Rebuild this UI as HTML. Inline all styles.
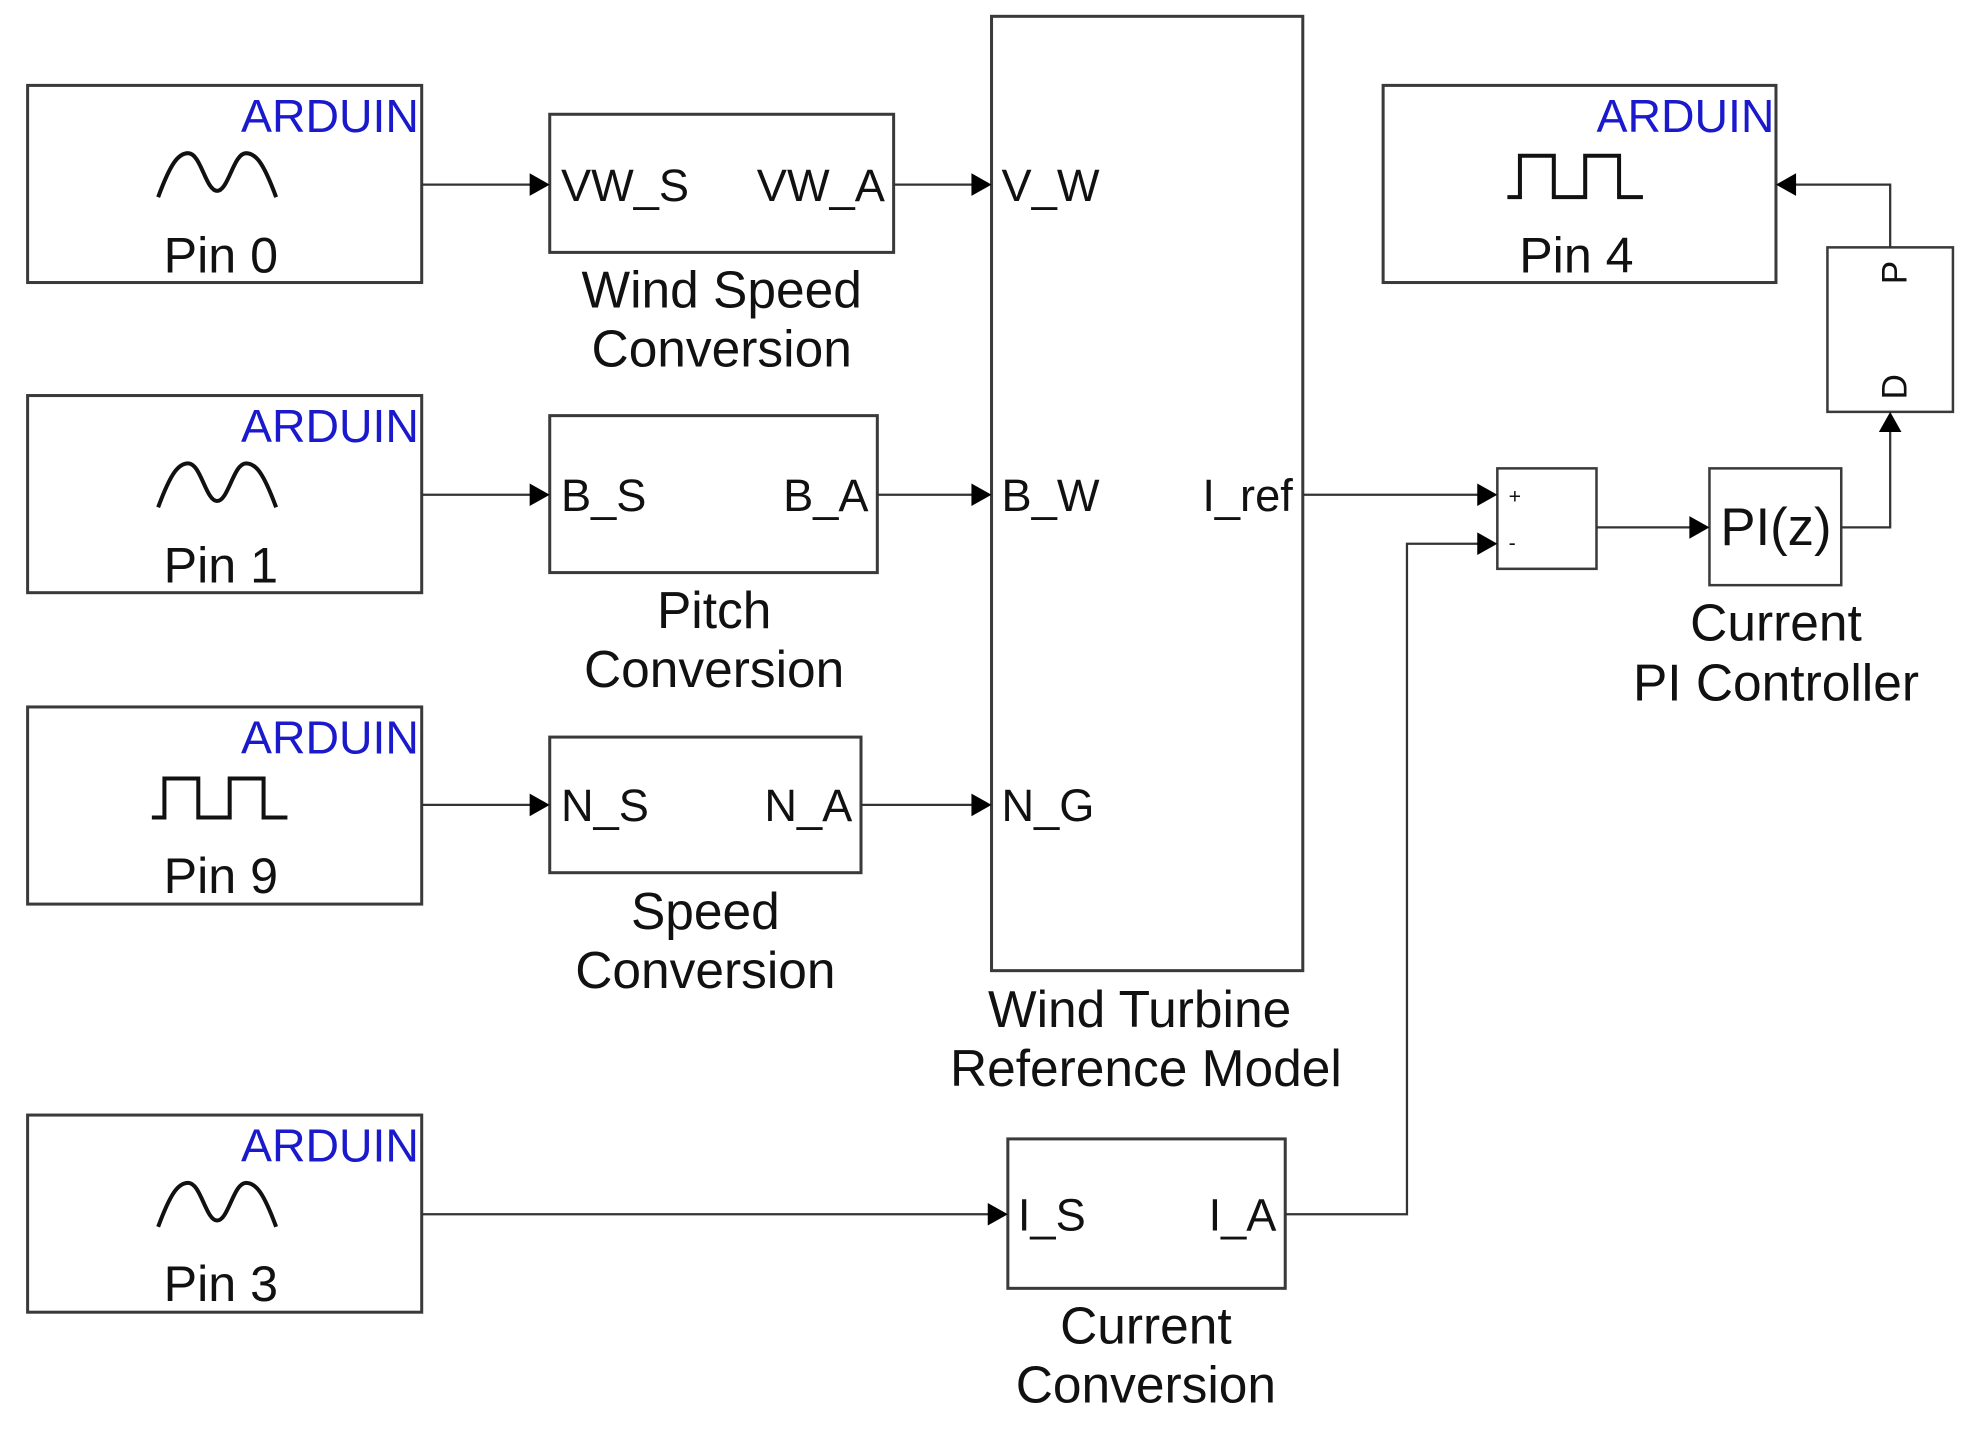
<!DOCTYPE html>
<html><head><meta charset="utf-8"><style>
html,body{margin:0;padding:0;background:#fff;}
svg{display:block;}
text{font-family:"Liberation Sans",Arial,sans-serif;fill:#111;}
.b{fill:#fff;stroke:#3a3a3a;stroke-width:2.4;}
.l{fill:none;stroke:#333;stroke-width:1.8;}
.a{fill:#000;}
.ard{fill:#1a1acc;font-size:37px;}
.cap{font-size:41px;text-anchor:middle;}
.pin{font-size:40px;text-anchor:middle;}
.port{font-size:36px;}
.w{fill:none;stroke:#111;stroke-width:3.2;}
</style></head><body>
<svg width="1968" height="1434" viewBox="0 0 1568 1142" preserveAspectRatio="none" xmlns="http://www.w3.org/2000/svg">
<defs>
<clipPath id="c0"><rect x="22" y="68" width="314" height="157"/></clipPath>
<clipPath id="c1"><rect x="22" y="315" width="314" height="157"/></clipPath>
<clipPath id="c2"><rect x="22" y="563" width="314" height="157"/></clipPath>
<clipPath id="c3"><rect x="22" y="888" width="314" height="157"/></clipPath>
<clipPath id="c4"><rect x="1102" y="68" width="313" height="157"/></clipPath>
</defs>

<rect class="b" x="22" y="68" width="314" height="157"/>
<text class="ard" x="192" y="105" clip-path="url(#c0)">ARDUINO</text>
<path class="w" d="M126,157 C136,130 142,122 150,122 C160,122 164,152 173,152 C182,152 186,122 196,122 C204,122 210,130 220,157"/>
<text class="pin" x="176" y="217">Pin 0</text>

<rect class="b" x="22" y="315" width="314" height="157"/>
<text class="ard" x="192" y="352" clip-path="url(#c1)">ARDUINO</text>
<path class="w" d="M126,404 C136,377 142,369 150,369 C160,369 164,399 173,399 C182,399 186,369 196,369 C204,369 210,377 220,404"/>
<text class="pin" x="176" y="464">Pin 1</text>

<rect class="b" x="22" y="563" width="314" height="157"/>
<text class="ard" x="192" y="600" clip-path="url(#c2)">ARDUINO</text>
<path class="w" d="M121,651 H131 V620 H158 V651 H183 V620 H210 V651 H229"/>
<text class="pin" x="176" y="711">Pin 9</text>

<rect class="b" x="22" y="888" width="314" height="157"/>
<text class="ard" x="192" y="925" clip-path="url(#c3)">ARDUINO</text>
<path class="w" d="M126,977 C136,950 142,942 150,942 C160,942 164,972 173,972 C182,972 186,942 196,942 C204,942 210,950 220,977"/>
<text class="pin" x="176" y="1036">Pin 3</text>

<rect class="b" x="1102" y="68" width="313" height="157"/>
<text class="ard" x="1272" y="105" clip-path="url(#c4)">ARDUINO</text>
<path class="w" d="M1201,157 H1211 V124 H1238 V157 H1263 V124 H1290 V157 H1309"/>
<text class="pin" x="1256" y="217">Pin 4</text>

<rect class="b" x="438" y="91" width="274" height="110"/>
<text class="port" x="447" y="160">VW_S</text>
<text class="port" x="705" y="160" text-anchor="end">VW_A</text>
<text class="cap" x="575" y="245">Wind Speed</text>
<text class="cap" x="575" y="292">Conversion</text>

<rect class="b" x="438" y="331" width="261" height="125"/>
<text class="port" x="447" y="407">B_S</text>
<text class="port" x="692" y="407" text-anchor="end">B_A</text>
<text class="cap" x="569" y="500">Pitch</text>
<text class="cap" x="569" y="547">Conversion</text>

<rect class="b" x="438" y="587" width="248" height="108"/>
<text class="port" x="447" y="654">N_S</text>
<text class="port" x="679" y="654" text-anchor="end">N_A</text>
<text class="cap" x="562" y="740">Speed</text>
<text class="cap" x="562" y="787">Conversion</text>

<rect class="b" x="790" y="13" width="248" height="760"/>
<text class="port" x="798" y="160">V_W</text>
<text class="port" x="798" y="407">B_W</text>
<text class="port" x="798" y="654">N_G</text>
<text class="port" x="1030" y="407" text-anchor="end">I_ref</text>
<text class="cap" x="908" y="818">Wind Turbine</text>
<text class="cap" x="913" y="865">Reference Model</text>

<rect class="b" x="803" y="907" width="221" height="119"/>
<text class="port" x="811" y="980">I_S</text>
<text class="port" x="1017" y="980" text-anchor="end">I_A</text>
<text class="cap" x="913" y="1070">Current</text>
<text class="cap" x="913" y="1117">Conversion</text>

<rect class="b" x="1193" y="373" width="79" height="80" style="stroke-width:2"/>
<text x="1202" y="401" style="font-size:17px">+</text>
<text x="1202" y="438" style="font-size:17px">-</text>

<rect class="b" x="1362" y="373" width="105" height="93" style="stroke-width:2"/>
<text x="1415" y="434" style="font-size:42px" text-anchor="middle">PI(z)</text>
<text class="cap" x="1415" y="510">Current</text>
<text class="cap" x="1415" y="558">PI Controller</text>

<rect class="b" x="1456" y="197" width="100" height="131" style="stroke-width:2"/>
<text x="0" y="0" style="font-size:28px" transform="translate(1519,217) rotate(-90)" text-anchor="middle">P</text>
<text x="0" y="0" style="font-size:28px" transform="translate(1519,308) rotate(-90)" text-anchor="middle">D</text>

<path class="l" d="M336,147 H424"/><path class="a" d="M438,147 l-16,-9 v18z"/>
<path class="l" d="M712,147 H776"/><path class="a" d="M790,147 l-16,-9 v18z"/>
<path class="l" d="M336,394 H424"/><path class="a" d="M438,394 l-16,-9 v18z"/>
<path class="l" d="M699,394 H776"/><path class="a" d="M790,394 l-16,-9 v18z"/>
<path class="l" d="M336,641 H424"/><path class="a" d="M438,641 l-16,-9 v18z"/>
<path class="l" d="M686,641 H776"/><path class="a" d="M790,641 l-16,-9 v18z"/>
<path class="l" d="M336,967 H789"/><path class="a" d="M803,967 l-16,-9 v18z"/>
<path class="l" d="M1038,394 H1179"/><path class="a" d="M1193,394 l-16,-9 v18z"/>
<path class="l" d="M1024,967 H1121 V433 H1179"/><path class="a" d="M1193,433 l-16,-9 v18z"/>
<path class="l" d="M1272,420 H1348"/><path class="a" d="M1362,420 l-16,-9 v18z"/>
<path class="l" d="M1467,420 H1506 V342"/><path class="a" d="M1506,328 l-9,16 h18z"/>
<path class="l" d="M1506,197 V147 H1429"/><path class="a" d="M1415,147 l16,-9 v18z"/>
</svg>
</body></html>
